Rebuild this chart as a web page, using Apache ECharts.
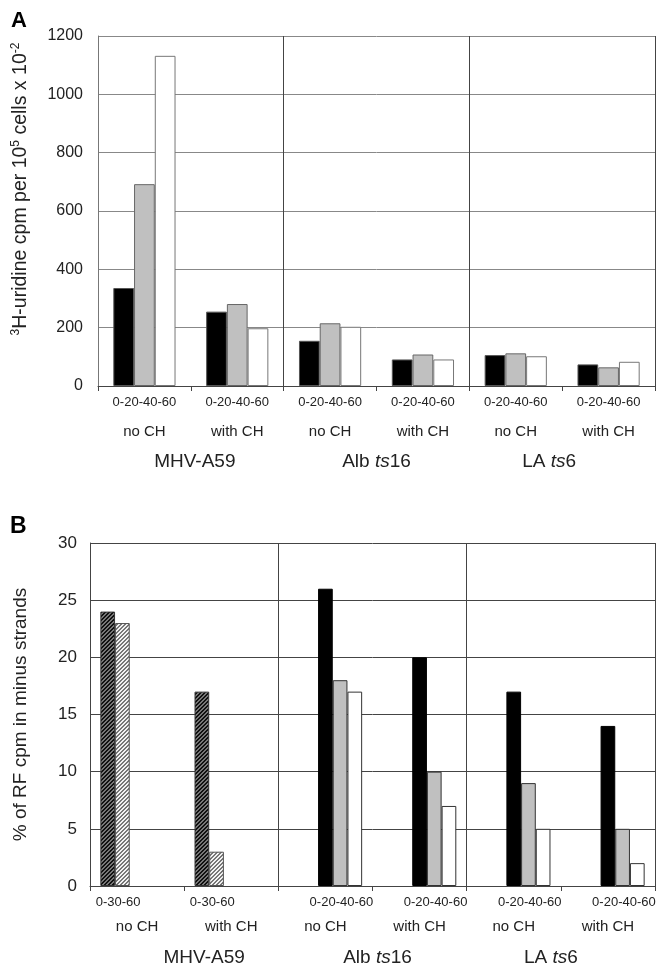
<!DOCTYPE html>
<html>
<head>
<meta charset="utf-8">
<script src="https://cdn.jsdelivr.net/npm/echarts@6/dist/echarts.min.js"></script>
<style>
  html, body { margin: 0; padding: 0; background: #fff; }
  #chart { width: 656px; height: 967px; }
</style>
</head>
<body>
<div id="chart"></div>
<script>
// categories
const viruses = ['MHV-A59', 'Alb {i|ts}16', 'LA {i|ts}6']
const treatments = ['no CH', 'with CH', 'no CH', 'with CH', 'no CH', 'with CH']
const timesA = ['0-20-40-60', '0-20-40-60', '0-20-40-60', '0-20-40-60', '0-20-40-60', '0-20-40-60']
const timesB = ['0-30-60', '0-30-60', '0-20-40-60', '0-20-40-60', '0-20-40-60', '0-20-40-60']

// panel A: 3H-uridine incorporation
const a0to20 = [336, 255, 155, 91, 106, 74]
const a20to40 = [692, 281, 215, 108, 112, 64]
const a40to60 = [1132, 198, 203, 91, 102, 83]

// panel B: % of RF cpm in minus strands
const b0to30 = [24, 17, null, null, null, null]
const b30to60 = [23, 3, null, null, null, null]
const b0to20 = [null, null, 26, 20, 17, 14]
const b20to40 = [null, null, 18, 10, 9, 5]
const b40to60 = [null, null, 17, 7, 5, 2]

const FONT = 'Liberation Sans, Arial, sans-serif'

function hatch(bg, fg) {
  const c = document.createElement('canvas')
  c.width = 4
  c.height = 4
  const ctx = c.getContext('2d')
  ctx.fillStyle = bg
  ctx.fillRect(0, 0, 4, 4)
  ctx.fillStyle = fg
  for (let y = 0; y < 4; y++) {
    for (let x = 0; x < 4; x++) {
      if ((x + y) % 4 < 2) ctx.fillRect(x, y, 1, 1)
    }
  }
  return { image: c, repeat: 'repeat' }
}

const chart = echarts.init(document.getElementById('chart'))

function xAxes(gridIndex, times, opts) {
  return [
    {
      gridIndex,
      type: 'category',
      position: 'bottom',
      data: times.map((t, i) => ({ value: t, textStyle: { padding: opts.timePad ? opts.timePad(i) : 0 } })),
      axisLine: { show: true, lineStyle: { color: '#444', width: 1 } },
      axisTick: { show: true, length: 5, lineStyle: { color: '#444' } },
      axisLabel: { interval: 0, fontSize: 13, color: '#222', margin: opts.m1 },
      splitLine: { show: false }
    },
    {
      gridIndex,
      type: 'category',
      position: 'bottom',
      data: treatments,
      axisLine: { show: false },
      axisTick: { show: false },
      axisLabel: { interval: 0, fontSize: 15, color: '#222', margin: opts.m2 },
      splitLine: { show: false }
    },
    {
      gridIndex,
      type: 'category',
      position: 'bottom',
      data: viruses.map((v, i) => ({ value: v, textStyle: { padding: opts.virusPad[i] } })),
      axisLine: { show: false },
      axisTick: { show: false },
      axisLabel: {
        interval: 0, fontSize: 19, color: '#222', margin: opts.m3,
        rich: { i: { fontSize: 19, fontStyle: 'italic', color: '#222' } }
      },
      splitLine: { show: true, lineStyle: { color: '#444', width: 1 } }
    }
  ]
}

function barSeries(name, data, xi, yi, color, border) {
  return {
    name,
    type: 'bar',
    xAxisIndex: xi,
    yAxisIndex: yi,
    data,
    barGap: 0,
    barCategoryGap: yi === 0 ? '33%' : '22%',
    itemStyle: { color, borderColor: border, borderWidth: 1 },
    emphasis: { disabled: true }
  }
}

const option = {
  animation: false,
  backgroundColor: '#fff',
  textStyle: { fontFamily: FONT },
  title: [
    { text: 'A', left: 11, top: 10, padding: 0, textStyle: { fontSize: 22, fontWeight: 'bold', color: '#000', fontFamily: FONT } },
    { text: 'B', left: 10, top: 515, padding: 0, textStyle: { fontSize: 23, fontWeight: 'bold', color: '#000', fontFamily: FONT } }
  ],
  grid: [
    { left: 98, top: 36, width: 557, height: 350, outerBoundsMode: 'none', containLabel: false },
    { left: 90, top: 543, width: 565, height: 343, outerBoundsMode: 'none', containLabel: false }
  ],
  xAxis: [
    ...xAxes(0, timesA, { m1: 10, m2: 38, m3: 66, virusPad: [[0, 0, 0, 8], 0, [0, 26, 0, 0]] }),
    ...xAxes(1, timesB, {
      m1: 10, m2: 33, m3: 62,
      virusPad: [[0, 0, 0, 40], [0, 0, 0, 10], [0, 20, 0, 0]],
      timePad: i => (i < 2 ? [0, 38, 0, 0] : [0, 0, 0, 32])
    })
  ],
  yAxis: [
    {
      gridIndex: 0,
      type: 'value',
      min: 0,
      max: 1200,
      interval: 200,
      name: '{sup|3}H-uridine cpm per 10{sup|5} cells x 10{sup|-2}',
      nameLocation: 'middle',
      nameGap: 66,
      nameTextStyle: {
        fontSize: 19.5, color: '#222', lineHeight: 22, padding: [0, 0, 0, 44],
        rich: { sup: { fontSize: 12, verticalAlign: 'top', lineHeight: 12, color: '#222' } }
      },
      axisLine: { show: true, lineStyle: { color: '#777' } },
      axisTick: { show: false },
      axisLabel: { fontSize: 16, color: '#222', margin: 15, formatter: v => String(v) },
      splitLine: { show: true, lineStyle: { color: '#888', width: 1 } }
    },
    {
      gridIndex: 1,
      type: 'value',
      min: 0,
      max: 30,
      interval: 5,
      name: '% of RF cpm in minus strands',
      nameLocation: 'middle',
      nameGap: 60,
      nameTextStyle: { fontSize: 19, color: '#222' },
      axisLine: { show: true, lineStyle: { color: '#444' } },
      axisTick: { show: false },
      axisLabel: { fontSize: 17, color: '#222', margin: 13, formatter: v => String(v) },
      splitLine: { show: true, lineStyle: { color: '#444', width: 1 } }
    }
  ],
  series: [
    barSeries('0-20 min', a0to20, 0, 0, '#000', '#555'),
    barSeries('20-40 min', a20to40, 0, 0, '#c0c0c0', '#666'),
    barSeries('40-60 min', a40to60, 0, 0, '#fff', '#777'),
    barSeries('0-30 min', b0to30, 3, 1, hatch('#777', '#111'), '#333'),
    barSeries('30-60 min', b30to60, 3, 1, hatch('#f2f2f2', '#777'), '#555'),
    barSeries('0-20 min', b0to20, 3, 1, '#000', '#000'),
    barSeries('20-40 min', b20to40, 3, 1, '#c0c0c0', '#333'),
    barSeries('40-60 min', b40to60, 3, 1, '#fff', '#333')
  ]
}

chart.setOption(option)
</script>
</body>
</html>
